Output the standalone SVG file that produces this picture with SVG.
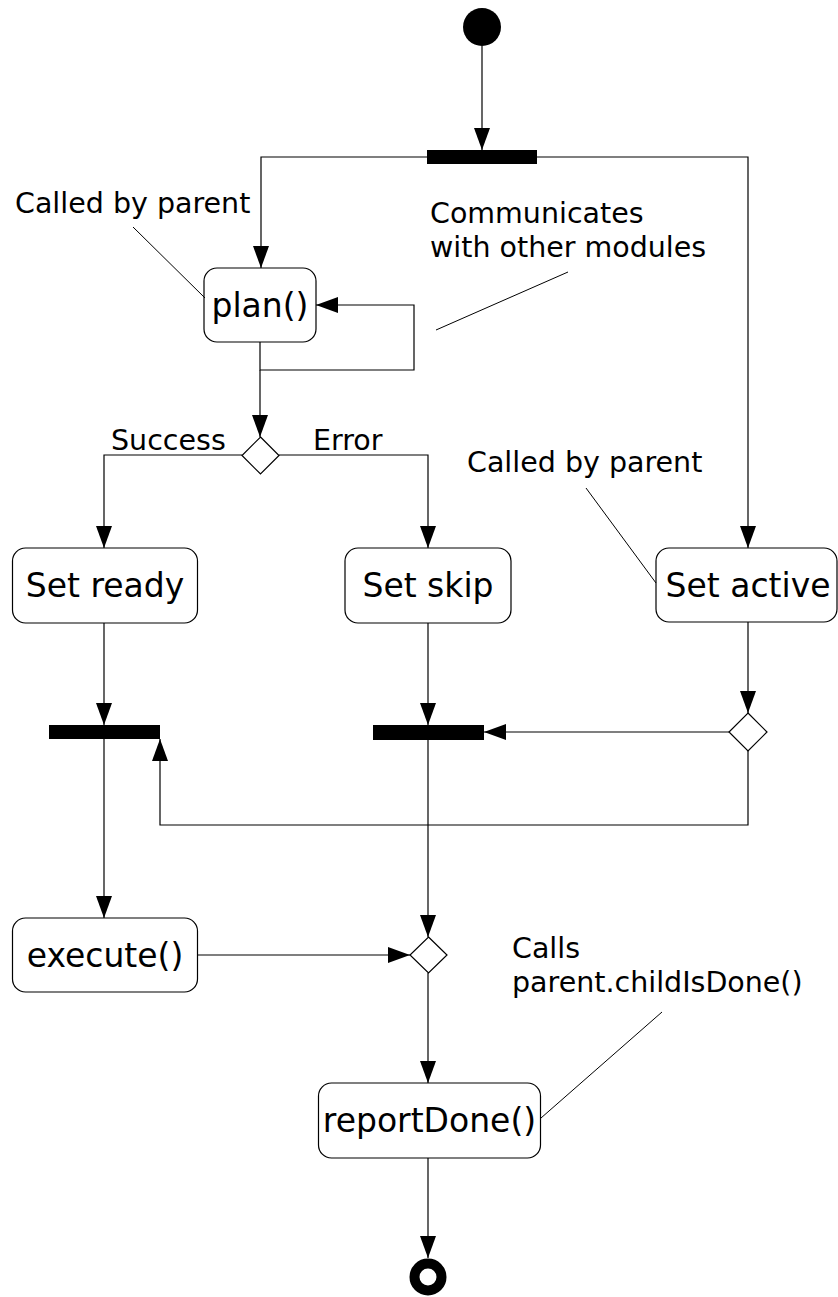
<svg xmlns="http://www.w3.org/2000/svg" width="838" height="1297" viewBox="0 0 838 1297">
<style>
  .node rect.box { fill: #fff; stroke: #000; stroke-width: 1.2; }
  .ntext { font-family: "DejaVu Sans", "Liberation Sans", sans-serif; font-size: 33px; fill: #000; text-anchor: middle; }
  .label { font-family: "DejaVu Sans", "Liberation Sans", sans-serif; font-size: 28.5px; fill: #000; }
  .bar { fill: #000; }
  .diamond { fill: #fff; stroke: #000; stroke-width: 1.2; }
  .conn { fill: none; stroke: #000; stroke-width: 1.2; marker-end: url(#arrow); }
  .leader { fill: none; stroke: #000; stroke-width: 1; }
</style>
<defs>
  <marker id="arrow" viewBox="0 0 22 16" refX="22" refY="8" markerWidth="22" markerHeight="16" markerUnits="userSpaceOnUse" orient="auto">
    <path d="M0,0 L22,8 L0,16 z" fill="#000"/>
  </marker>
</defs>
<rect x="0" y="0" width="838" height="1297" fill="#fff"/>

<g id="connectors">
  <path class="conn" d="M482,46 V150"/>
  <path class="conn" d="M427,157 H261 V268"/>
  <path class="conn" d="M537,157 H748 V548"/>
  <path class="conn" d="M260,342 V370 H414 V305 H316"/>
  <path class="conn" d="M260,370 V437"/>
  <path class="conn" d="M242,455 H104 V548"/>
  <path class="conn" d="M279,455 H428 V548"/>
  <path class="conn" d="M104,623 V725"/>
  <path class="conn" d="M428,623 V725"/>
  <path class="conn" d="M748,622 V713"/>
  <path class="conn" d="M730,732 H484"/>
  <path class="conn" d="M748,751 V825 H160 V739"/>
  <path class="conn" d="M104,739 V918"/>
  <path class="conn" d="M428,740 V937"/>
  <path class="conn" d="M197,955 H410"/>
  <path class="conn" d="M428,973 V1083"/>
  <path class="conn" d="M428,1158 V1258"/>
</g>

<g id="start"><circle cx="482" cy="27" r="19" fill="#000"/></g>
<g id="fork-top"><rect class="bar" x="427" y="150" width="110" height="14"/></g>

<g id="plan" class="node">
  <rect class="box" x="204" y="268" width="112" height="74" rx="13"/>
  <text class="ntext" x="260" y="317">plan()</text>
</g>

<g id="decision-plan"><path class="diamond" d="M260.5,437 L279,455.5 L260.5,474 L242,455.5 z"/></g>

<g id="set-ready" class="node">
  <rect class="box" x="12.5" y="548" width="185" height="75" rx="13"/>
  <text class="ntext" x="105" y="597">Set ready</text>
</g>
<g id="set-skip" class="node">
  <rect class="box" x="345" y="548" width="166" height="75" rx="13"/>
  <text class="ntext" x="428" y="597">Set skip</text>
</g>
<g id="set-active" class="node">
  <rect class="box" x="656" y="548" width="181" height="74" rx="13"/>
  <text class="ntext" x="748" y="597">Set active</text>
</g>

<g id="join-ready"><rect class="bar" x="49" y="725" width="111" height="14"/></g>
<g id="join-skip"><rect class="bar" x="373" y="725" width="111" height="15"/></g>
<g id="decision-active"><path class="diamond" d="M748,713 L767,732 L748,751 L729,732 z"/></g>

<g id="execute" class="node">
  <rect class="box" x="12.5" y="918" width="185" height="74" rx="13"/>
  <text class="ntext" x="105" y="967">execute()</text>
</g>
<g id="merge"><path class="diamond" d="M428.5,937 L447,955 L428.5,973 L410,955 z"/></g>

<g id="report-done" class="node">
  <rect class="box" x="318.5" y="1083" width="222" height="75" rx="13"/>
  <text class="ntext" x="429.5" y="1132">reportDone()</text>
</g>

<g id="end"><circle cx="428" cy="1277" r="13.5" fill="#fff" stroke="#000" stroke-width="10"/></g>

<g id="note-plan-called">
  <text class="label" x="15" y="213">Called by parent</text>
  <line class="leader" x1="133" y1="227" x2="205" y2="298"/>
</g>
<g id="note-communicates">
  <text class="label" x="430" y="223">Communicates</text>
  <text class="label" x="430" y="257">with other modules</text>
  <line class="leader" x1="436" y1="330" x2="568" y2="272"/>
</g>
<g id="label-success"><text class="label" x="111" y="450">Success</text></g>
<g id="label-error"><text class="label" x="313" y="450">Error</text></g>
<g id="note-active-called">
  <text class="label" x="467" y="472">Called by parent</text>
  <line class="leader" x1="586" y1="488" x2="656" y2="583"/>
</g>
<g id="note-calls">
  <text class="label" x="512" y="958">Calls</text>
  <text class="label" x="512" y="992">parent.childIsDone()</text>
  <line class="leader" x1="541" y1="1118" x2="662" y2="1012"/>
</g>
</svg>
